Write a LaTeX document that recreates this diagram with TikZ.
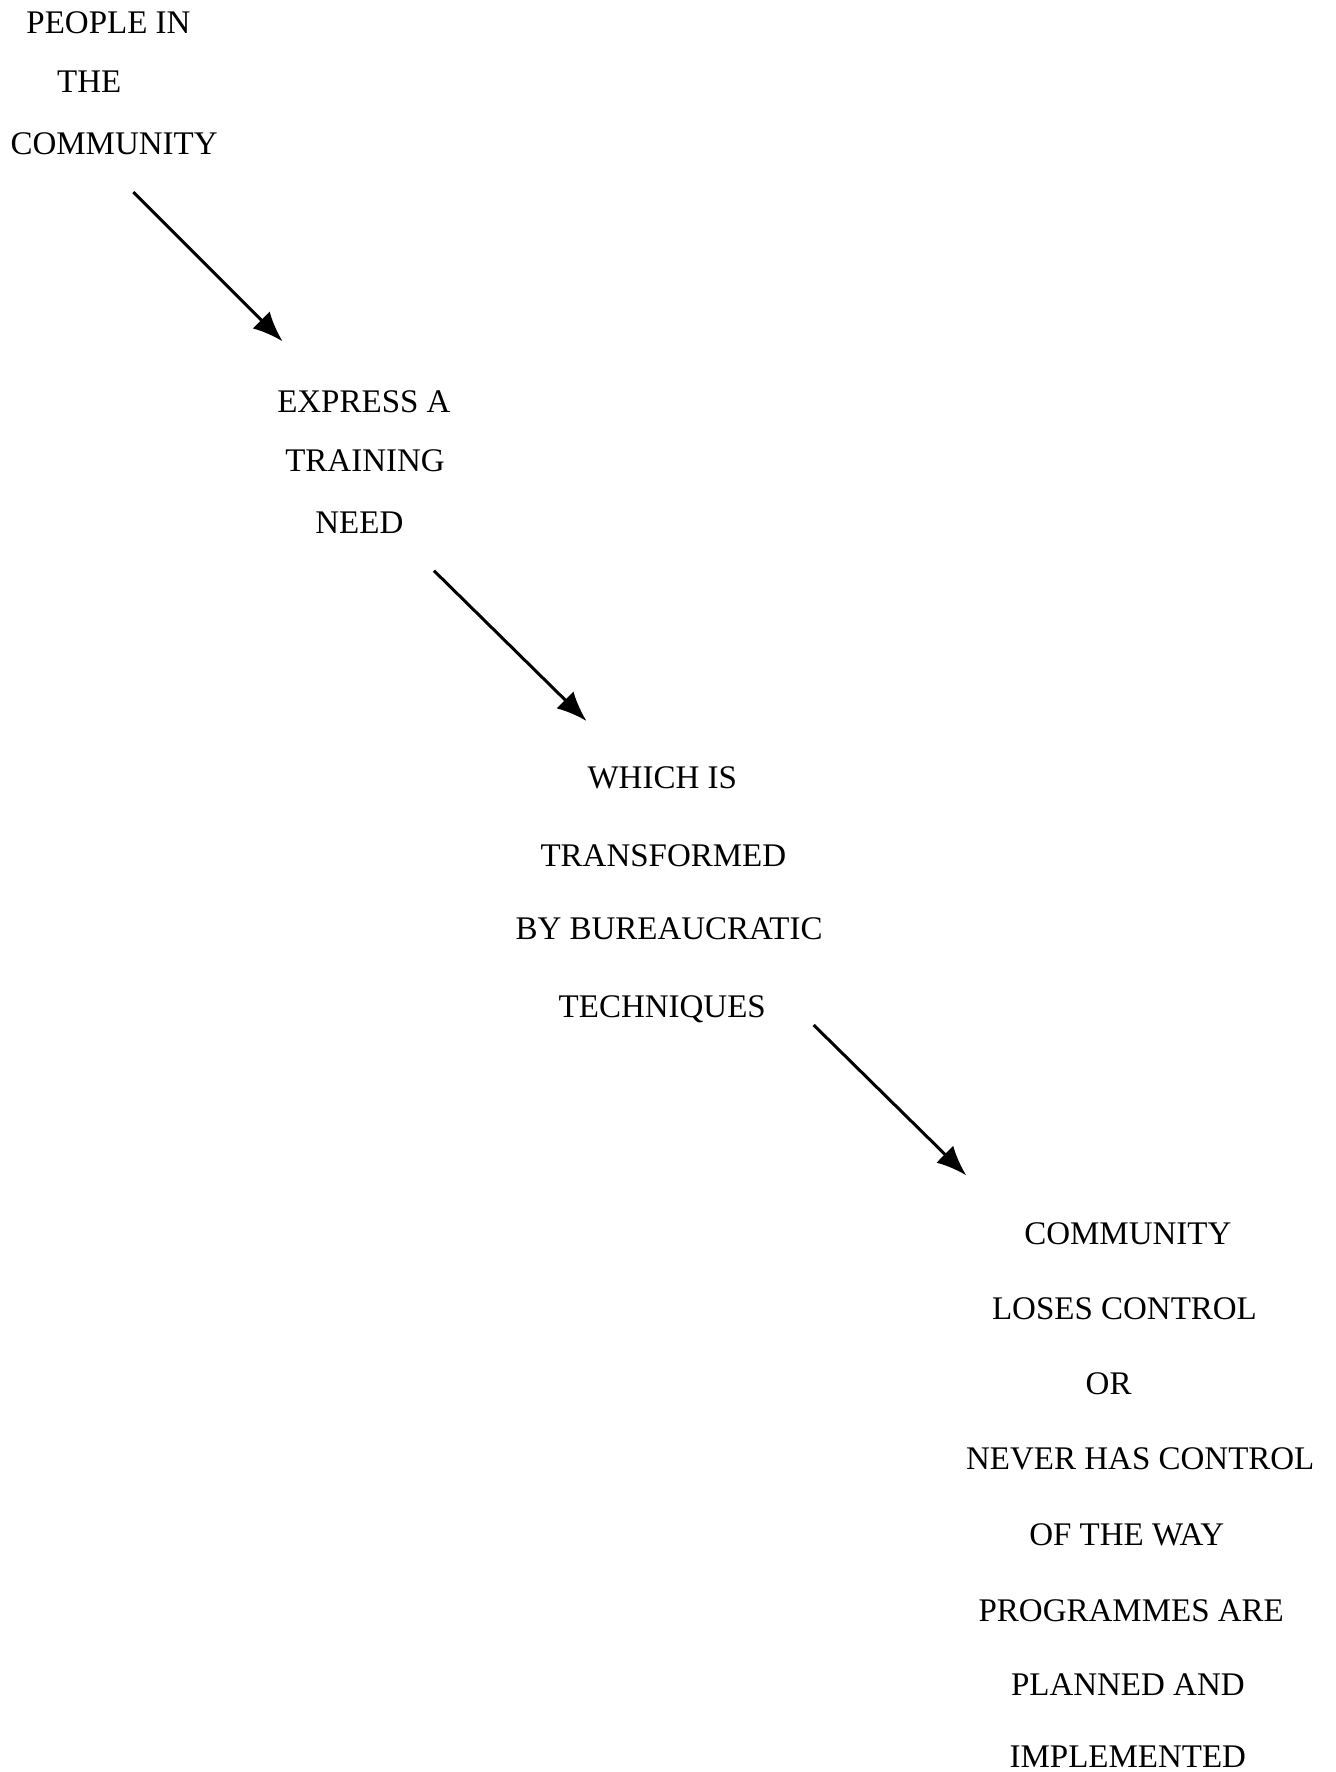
\documentclass[tikz,border=0pt]{standalone}
\usepackage{fontspec}
\setmainfont{Liberation Serif}
\usetikzlibrary{arrows.meta}

\tikzset{
  txt/.style={inner sep=0pt, text height=10.9pt, text depth=0pt,
    font=\fontsize{16.5}{19}\selectfont},
  flow/.style={line width=1.5pt, -{Latex[length=15pt,width=12pt]}}
}

\begin{document}
\begin{tikzpicture}[x=0.5652pt,y=-0.5652pt]
        \useasboundingbox (0,0) rectangle (1182,1568);

        \node[txt] (people1) at (96,20) {PEOPLE IN};
        \node[txt] (people2) at (79,72) {THE};
        \node[txt] (people3) at (101,127) {COMMUNITY};

        \node[txt] (need1) at (322,355) {EXPRESS A};
        \node[txt] (need2) at (323,408) {TRAINING};
        \node[txt] (need3) at (318,462) {NEED};

        \node[txt] (trans1) at (586,688) {WHICH IS};
        \node[txt] (trans2) at (587,757) {TRANSFORMED};
        \node[txt] (trans3) at (592,822) {BY BUREAUCRATIC};
        \node[txt] (trans4) at (586,891) {TECHNIQUES};

        \node[txt] (ctrl1) at (998,1092) {COMMUNITY};
        \node[txt] (ctrl2) at (995,1158) {LOSES CONTROL};
        \node[txt] (ctrl3) at (981,1224) {OR};
        \node[txt] (ctrl4) at (1009,1291) {NEVER HAS CONTROL};
        \node[txt] (ctrl5) at (997,1358) {OF THE WAY};
        \node[txt] (ctrl6) at (1001,1425) {PROGRAMMES ARE};
        \node[txt] (ctrl7) at (998,1491) {PLANNED AND};
        \node[txt] (ctrl8) at (998,1554) {IMPLEMENTED};

        \coordinate (go1) at (118,170);
        \coordinate (to1) at (250,302);
        \coordinate (go2) at (384,505);
        \coordinate (to2) at (519,638);
        \coordinate (go3) at (720,907);
        \coordinate (to3) at (855,1040);

        \draw[flow] (go1) -- (to1);
        \draw[flow] (go2) -- (to2);
        \draw[flow] (go3) -- (to3);
    \end{tikzpicture}
\end{document}
